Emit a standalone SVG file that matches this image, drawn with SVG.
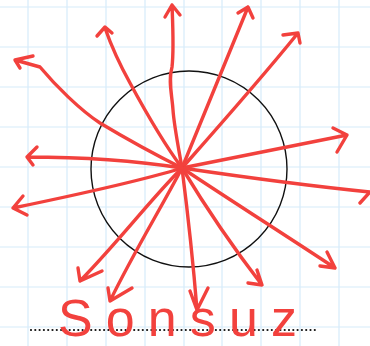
<svg xmlns="http://www.w3.org/2000/svg" width="370" height="346" viewBox="0 0 370 346">
<style>
.grid{stroke:#d6ecfa;stroke-width:1.2}
.arr{fill:none;stroke:#f2413d;stroke-width:3.4;stroke-linecap:round;stroke-linejoin:round}
.lbl{font-family:"Liberation Sans",Arial,sans-serif;font-size:52px;fill:#f2413d}
</style>
<rect width="370" height="346" fill="#ffffff"/>
<g id="grid" class="grid">
<path d="M28 0V346M67 0V346M106 0V346M145 0V346M184 0V346M222 0V346M261 0V346M300 0V346M339 0V346"/>
<path d="M0 7H370M0 47H370M0 87H370M0 127H370M0 167H370M0 207H370M0 247H370M0 287H370M0 327H370"/>
</g>
<g id="circle"><circle cx="189" cy="169" r="98" fill="none" stroke="#111" stroke-width="1.4"/></g>
<g id="connectors" class="arr">
<path d="M182 168 C150 152 120 135 100 123 C80 110 55 85 40 67 L15 60 M33 56 L15 60 L20 68"/>
<path d="M182 168 C165 145 150 120 130 83 C120 65 112 48 105 28 M97 36 L105 27 L112 33"/>
<path d="M182 168 C178 145 174 125 173 110 C172 95 168 80 172 67 C174 50 173 30 172 5 M165 17 L172 5 L180 15"/>
<path d="M182 168 L248 7 M238 13 L248 7 L253 18"/>
<path d="M182 168 C220 125 260 80 298 33 M283 35 L298 33 L300 43"/>
<path d="M182 168 L347 135 M333 128 L347 135 L337 152"/>
<path d="M182 168 C250 178 310 186 370 192 M360 203 L370 192"/>
<path d="M182 168 C230 200 285 235 335 268 M327 252 L335 268 L320 266"/>
<path d="M182 168 C205 206 235 250 262 285 M257 270 L262 285 L248 283"/>
<path d="M182 168 C188 215 193 260 197 310 M190 291 L197 310 L208 288"/>
<path d="M182 168 C160 210 135 250 110 301 M108 288 L110 301 L132 288"/>
<path d="M182 168 C150 200 120 240 80 281 M78 268 L80 281 L102 271"/>
<path d="M182 168 C150 178 100 190 13 208 M23 196 L13 208 L27 215"/>
<path d="M182 168 C150 163 100 157 27 157 M37 147 L27 157 L33 165"/>
</g>
<g id="dots"><line x1="31" y1="330" x2="318" y2="330" stroke="#111" stroke-width="2.2" stroke-linecap="round" stroke-dasharray="0 4.3"/></g>
<g id="label"><text class="lbl" x="58" y="336" textLength="239" lengthAdjust="spacing">Sonsuz</text></g>
</svg>
